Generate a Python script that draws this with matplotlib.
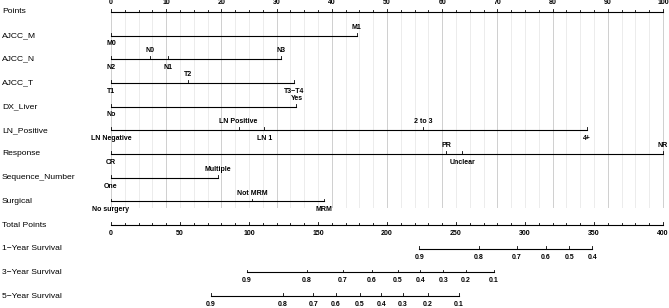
import matplotlib
matplotlib.use('Agg')
import matplotlib.pyplot as plt
from matplotlib.transforms import blended_transform_factory
import numpy as np

plt.rcParams['font.family'] = ['Liberation Sans', 'DejaVu Sans']

row_names = ['Points', 'AJCC_M', 'AJCC_N', 'AJCC_T', 'DX_Liver', 'LN_Positive',
             'Response', 'Sequence_Number', 'Surgical', 'Total Points',
             '1\u2212Year Survival', '3\u2212Year Survival', '5\u2212Year Survival']

# points given to each level of each predictor
ajcc_m_levels = ['M0', 'M1']
ajcc_m_points = [0, 44.5]
ajcc_n_levels = ['N2', 'N0', 'N1', 'N3']
ajcc_n_points = [0, 7.1, 10.3, 30.8]
ajcc_t_levels = ['T1', 'T2', 'T3\u2212T4']
ajcc_t_points = [0, 13.9, 33.2]
dx_liver_levels = ['No', 'Yes']
dx_liver_points = [0, 33.6]
ln_levels = ['LN Negative', 'LN Positive', 'LN 1', '2 to 3', '4+']
ln_points = [0, 23.1, 27.8, 56.6, 86.2]
response_levels = ['CR', 'PR', 'Unclear', 'NR']
response_points = [0, 60.7, 63.6, 100]
sequence_levels = ['One', 'Multiple']
sequence_points = [0, 19.4]
surgical_levels = ['No surgery', 'Not MRM', 'MRM']
surgical_points = [0, 25.6, 38.5]

# survival probability vs total points
surv1_labels = ['0.9', '0.8', '0.7', '0.6', '0.5', '0.4']
surv1_total = [223.4, 266.7, 294, 315, 332, 348.8]
surv3_labels = ['0.9', '0.8', '0.7', '0.6', '0.5', '0.4', '0.3', '0.2', '0.1']
surv3_total = [98.3, 141.8, 168, 189, 208, 224, 240.8, 257, 277.5]
surv5_labels = ['0.9', '0.8', '0.7', '0.6', '0.5', '0.4', '0.3', '0.2', '0.1']
surv5_total = [72.5, 124.4, 146.6, 163, 180.4, 196, 211.6, 229.7, 252]

predictors = [
    (ajcc_m_levels, ajcc_m_points),
    (ajcc_n_levels, ajcc_n_points),
    (ajcc_t_levels, ajcc_t_points),
    (dx_liver_levels, dx_liver_points),
    (ln_levels, ln_points),
    (response_levels, response_points),
    (sequence_levels, sequence_points),
    (surgical_levels, surgical_points),
]
survival = [
    (surv1_labels, surv1_total),
    (surv3_labels, surv3_total),
    (surv5_labels, surv5_total),
]

fig = plt.figure(figsize=(6.69, 3.08), dpi=100)
ax = fig.add_axes([0, 0, 1, 1])
ax.axis('off')
ax.set_xlim(-111 / 5.52, 558 / 5.52)
ax.set_ylim(12.5, -0.5)

lw = 0.8
tick = 0.12
small = 5.0

# grid
for v in np.arange(0, 100.1, 2.5):
    col = '#cfcfcf' if v % 10 == 0 else '#ececec'
    ax.plot([v, v], [0, 8.25], color=col, lw=0.7, zorder=0)

# row labels
tr = blended_transform_factory(fig.transFigure, ax.transData)
for i, name in enumerate(row_names):
    ax.text(2 / 669, i, name, transform=tr, fontsize=6.1, va='center', ha='left')

# points scale
ax.plot([0, 100], [0, 0], color='black', lw=lw)
for v in np.arange(0, 100.1, 2.5):
    ln = tick if v % 10 == 0 else tick * 0.6
    ax.plot([v, v], [0, -ln], color='black', lw=0.6)
for v in range(0, 101, 10):
    ax.annotate(str(v), (v, 0), xytext=(0, 4), textcoords='offset points',
                ha='center', va='bottom', fontsize=small, fontweight='bold')

# predictor rows
for i, (levels, pts) in enumerate(predictors, start=1):
    ax.plot([min(pts), max(pts)], [i, i], color='black', lw=lw)
    order = np.argsort(pts)
    for k, j in enumerate(order):
        ax.plot([pts[j], pts[j]], [i, i - tick], color='black', lw=0.6)
        if k % 2 == 0:
            ax.annotate(levels[j], (pts[j], i), xytext=(0, -3.5), textcoords='offset points',
                        ha='center', va='top', fontsize=small, fontweight='bold')
        else:
            ax.annotate(levels[j], (pts[j], i), xytext=(0, 3.5), textcoords='offset points',
                        ha='center', va='bottom', fontsize=small, fontweight='bold')

# total points scale
ax.plot([0, 100], [9, 9], color='black', lw=lw)
for v in range(0, 401, 10):
    ln = tick if v % 50 == 0 else tick * 0.6
    ax.plot([v / 4, v / 4], [9, 9 - ln], color='black', lw=0.6)
for v in range(0, 401, 50):
    ax.annotate(str(v), (v / 4, 9), xytext=(0, -3.5), textcoords='offset points',
                ha='center', va='top', fontsize=small, fontweight='bold')

# survival scales
for i, (labels, tot) in enumerate(survival, start=10):
    x = [t / 4 for t in tot]
    ax.plot([min(x), max(x)], [i, i], color='black', lw=lw)
    for xv, lab in zip(x, labels):
        ax.plot([xv, xv], [i, i - tick], color='black', lw=0.6)
        ax.annotate(lab, (xv, i), xytext=(0, -3.5), textcoords='offset points',
                    ha='center', va='top', fontsize=small, fontweight='bold')

fig.savefig('out.png', dpi=100)
